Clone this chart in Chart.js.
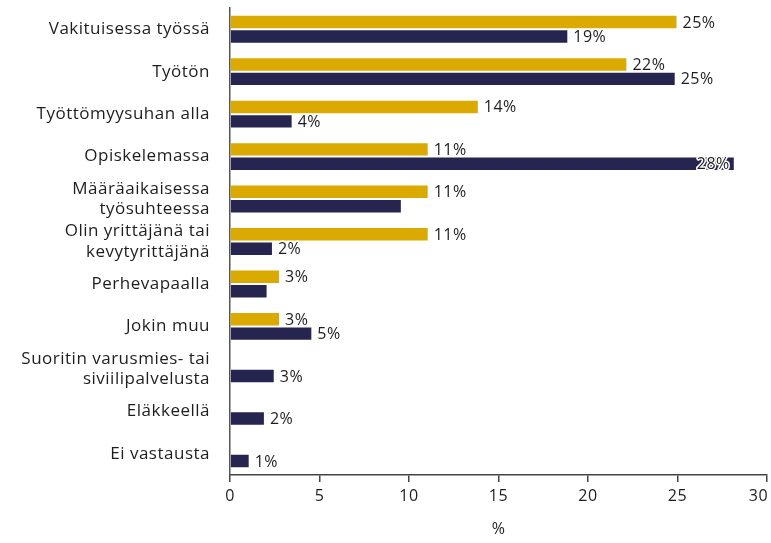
<!DOCTYPE html>
<html>
<head>
<meta charset="utf-8">
<script src="https://cdn.jsdelivr.net/npm/chart.js@4/dist/chart.umd.min.js"></script>
<style>
  body { margin: 0; background: #fff; }
  #kaavio { width: 771px; height: 543px; }
</style>
</head>
<body>
<div id="kaavio"><canvas id="myChart"></canvas></div>
<script>
let kategoriat = [
  'Vakituisessa työssä',
  'Työtön',
  'Työttömyysuhan alla',
  'Opiskelemassa',
  ['Määräaikaisessa', 'työsuhteessa'],
  ['Olin yrittäjänä tai', 'kevytyrittäjänä'],
  'Perhevapaalla',
  'Jokin muu',
  ['Suoritin varusmies- tai', 'siviilipalvelusta'],
  'Eläkkeellä',
  'Ei vastausta'
];
let keltaiset = [25, 22.2, 13.9, 11.1, 11.1, 11.1, 2.8, 2.8, 0, 0, 0];
let tummat = [18.9, 24.9, 3.5, 28.2, 9.6, 2.4, 2.1, 4.6, 2.5, 1.95, 1.1];
// mille palkeille prosenttiluku näytetään
let keltaisetNakyy = [1, 1, 1, 1, 1, 1, 1, 1, 0, 0, 0];
let tummatNakyy = [1, 1, 1, 1, 0, 1, 0, 1, 1, 1, 1];
let akseliTikit = [0, 5, 10, 15, 20, 25, 30];

const fontti = "'Open Sans', sans-serif";
const tekstiVari = '#1e1e1e';

const kirjainvali = {
  id: 'kirjainvali',
  beforeDraw(chart) { chart.ctx.letterSpacing = '0.5px'; }
};

const arvoEtiketit = {
  id: 'arvoEtiketit',
  afterDatasetsDraw(chart) {
    let ctx = chart.ctx;
    let oikea = chart.chartArea.right;
    let nakyy = [keltaisetNakyy, tummatNakyy];
    chart.data.datasets.forEach(function (ds, i) {
      let meta = chart.getDatasetMeta(i);
      meta.data.forEach(function (bar, j) {
        if (!nakyy[i][j]) return;
        let teksti = Math.round(ds.data[j]) + '%';
        ctx.save();
        ctx.font = '16px ' + fontti;
        ctx.textBaseline = 'middle';
        let w = ctx.measureText(teksti).width;
        let x = bar.x + 5;
        if (x + w > oikea) x = bar.x - w - 5;
        let y = bar.y + 1;
        ctx.lineJoin = 'round';
        ctx.lineWidth = 3;
        ctx.strokeStyle = '#fff';
        ctx.strokeText(teksti, x, y);
        ctx.fillStyle = tekstiVari;
        ctx.fillText(teksti, x, y);
        ctx.restore();
      });
    });
  }
};

let ctx = document.getElementById('myChart').getContext('2d');
let chart = new Chart(ctx, {
  type: 'bar',
  data: {
    labels: kategoriat,
    datasets: [{
      label: 'Keltainen',
      data: keltaiset,
      backgroundColor: 'rgb(218, 170, 0)',
      borderColor: 'rgba(255, 255, 255, 0.9)',
      borderWidth: 1,
      barPercentage: 1,
      categoryPercentage: 0.68
    }, {
      label: 'Tumma',
      data: tummat,
      backgroundColor: 'rgb(37, 37, 80)',
      borderColor: 'rgba(255, 255, 255, 0.9)',
      borderWidth: 1,
      barPercentage: 1,
      categoryPercentage: 0.68
    }]
  },
  options: {
    indexAxis: 'y',
    responsive: true,
    maintainAspectRatio: false,
    animation: false,
    layout: { padding: { top: 8, right: 4, left: 0, bottom: 0 } },
    plugins: {
      legend: { display: false },
      tooltip: { enabled: false }
    },
    scales: {
      x: {
        min: 0,
        max: 30,
        afterBuildTicks: function (scale) {
          scale.ticks = akseliTikit.map(function (v) { return { value: v }; });
        },
        afterFit: function (scale) {
          scale.height = 68;
          scale.paddingLeft = 0;
          scale.paddingRight = 0;
        },
        ticks: {
          font: { family: fontti, size: 16 },
          color: tekstiVari,
          padding: 5,
          // viimeinen luku hieman vasemmalle, ettei se leikkaudu
          callback: function (v) { return v === 30 ? v + '\u2002\u2002' : v; }
        },
        grid: { drawOnChartArea: false, drawTicks: true, tickLength: 7, color: '#444', lineWidth: 1.5 },
        border: { display: true, color: '#444', width: 1.5 },
        title: { display: true, text: '%', font: { family: fontti, size: 16 }, color: tekstiVari, padding: { top: 18 } }
      },
      y: {
        afterFit: function (scale) {
          scale.width = 230;
          scale.paddingTop = 0;
          scale.paddingBottom = 0;
        },
        ticks: { font: { family: fontti, size: 17 }, color: tekstiVari, padding: 12, autoSkip: false },
        grid: { display: false },
        border: { display: true, color: '#555', width: 1.5 }
      }
    }
  },
  plugins: [kirjainvali, arvoEtiketit]
});
</script>
</body>
</html>
